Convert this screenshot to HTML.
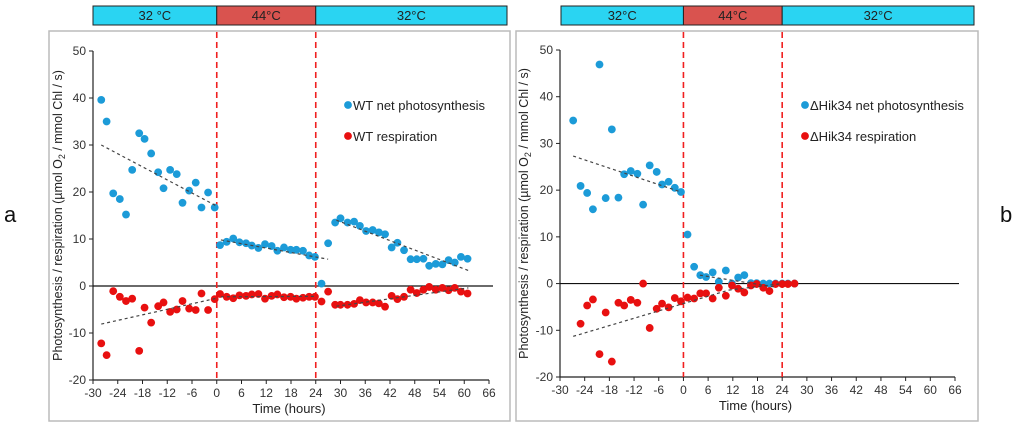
<!DOCTYPE html>
<html><head><meta charset="utf-8">
<style>
body{margin:0;background:#fff;width:1024px;height:428px;overflow:hidden;font-family:"Liberation Sans",sans-serif;}
svg text{font-family:"Liberation Sans",sans-serif;}
</style></head>
<body>
<svg id="c" width="1024" height="428" xmlns="http://www.w3.org/2000/svg"></svg>
<script>
const tickX=[-30,-24,-18,-12,-6,0,6,12,18,24,30,36,42,48,54,60,66];
const tickY=[-20,-10,0,10,20,30,40,50];
const wtPhotoT=[-28,-26.7,-25.1,-23.5,-22,-20.5,-18.8,-17.5,-15.9,-14.2,-12.9,-11.3,-9.7,-8.3,-6.7,-5.1,-3.7,-2.1,-0.5,0.8,2.4,4,5.5,7.1,8.5,10.1,11.7,13.3,14.7,16.3,17.9,19.3,20.9,22.4,23.8,25.4,27,28.7,30,31.7,33.3,34.7,36.2,37.8,39.3,40.8,42.4,43.8,45.4,47,48.5,50.1,51.5,53.1,54.7,56.2,57.7,59.2,60.8];
const wtPhotoV=[39.6,35,19.7,18.5,15.2,24.7,32.5,31.3,28.2,24.2,20.8,24.7,23.8,17.7,20.3,22,16.7,19.9,16.7,8.7,9.4,10.1,9.3,9.1,8.6,8.1,8.9,8.5,7.5,8.2,7.7,7.7,7.5,6.5,6.2,0.5,9.1,13.5,14.4,13.5,13.7,12.8,11.7,11.9,11.4,11,8.2,9.2,7.6,5.7,5.7,5.8,4.3,4.7,4.6,5.5,5,6.2,5.8];
const wtRespT=wtPhotoT;
const wtRespV=[-12.2,-14.7,-1.1,-2.3,-3.2,-2.7,-13.8,-4.6,-7.8,-4.3,-3.5,-5.5,-5,-3.2,-4.8,-5.1,-1.6,-5.1,-2.8,-1.7,-2.3,-2.6,-2,-2.1,-1.8,-1.7,-2.7,-2.1,-1.8,-2.4,-2.3,-2.7,-2.5,-2.3,-2.3,-3.3,-1.2,-4,-4,-4,-3.8,-3,-3.5,-3.5,-3.7,-4.4,-2.1,-2.8,-2.3,-0.8,-1.5,-0.8,-0.2,-0.8,-0.4,-0.9,-0.4,-1.2,-1.6];
const wtTrendPhoto=[[-28,30,0,17],[1,9.8,27,5.7],[29,14,61,3.3]];
const wtTrendResp=[[-28,-8.1,0,-2.6],[1,-2.3,24,-2.2],[29,-4.3,61,-0.4]];
const hkPhotoT=[-26.8,-25,-23.4,-22,-20.4,-18.9,-17.4,-15.8,-14.4,-12.8,-11.2,-9.8,-8.2,-6.5,-5.2,-3.6,-2.1,-0.6,1,2.6,4.1,5.5,7.1,8.6,10.3,11.8,13.3,14.8,16.4,17.8,19.4,20.9,22.4,24,25.4,27];
const hkPhotoV=[34.9,20.9,19.4,15.9,46.9,18.3,33,18.4,23.4,24.1,23.5,16.9,25.3,23.9,21.2,21.8,20.5,19.6,10.5,3.6,1.8,1.4,2.4,0.4,2.8,0,1.3,1.8,0.1,0.1,0,0,0,0,0,0];
const hkRespT=[-25,-23.4,-22,-20.4,-18.9,-17.4,-15.8,-14.4,-12.8,-11.2,-9.8,-8.2,-6.5,-5.2,-3.6,-2.1,-0.6,1,2.6,4.1,5.5,7.1,8.6,10.3,11.8,13.3,14.8,16.4,17.8,19.4,20.9,22.4,24,25.4,27];
const hkRespV=[-8.6,-4.7,-3.4,-15.1,-6.2,-16.7,-4.1,-4.7,-3.5,-4.1,0,-9.5,-5.4,-4.3,-5.1,-3.1,-3.8,-3,-3.2,-2.1,-2.1,-3.2,-0.9,-2.6,-0.4,-1.1,-1.9,-0.4,-0.1,-0.9,-1.6,-0.1,-0.1,-0.1,0];
const hkTrendPhoto=[[-26.8,27.3,-0.6,19.6],[4,1.8,22,-0.7]];
const hkTrendResp=[[-26.8,-11.3,11,-1.4],[11,-1.4,24,0]];

const svg=document.getElementById('c');
const NS='http://www.w3.org/2000/svg';
function mk(tag,attrs,parent,text){const e=document.createElementNS(NS,tag);for(const k in attrs)e.setAttribute(k,attrs[k]);if(text!==undefined)e.textContent=text;(parent||svg).appendChild(e);return e;}

function panel(p){
  const g=mk('g',{});
  
  
  const xs=t=>p.x0+(t+30)*(p.x1-p.x0)/96;
  const ys=v=>p.y0+(50-v)*(p.y1-p.y0)/70;
  const fr=mk('rect',{x:p.bx,y:31,width:p.bw,height:390,fill:'#fff',stroke:'#bbb','stroke-width':1.5},g);
  
  // temperature bar
  const bar=mk('g',{},g);
  
  const segs=[[p.barL,xs(0),'#2ad4f2',p.t1],[xs(0),xs(24),'#d9534f','44°C'],[xs(24),p.barR,'#2ad4f2','32°C']];
  segs.forEach((s,i)=>{
    const r=mk('rect',{x:s[0],y:6,width:s[1]-s[0],height:19,fill:s[2],stroke:'#222','stroke-width':1},bar);
    
    const t=mk('text',{x:(s[0]+s[1])/2,y:20,'font-size':13,'text-anchor':'middle',fill:'#222'},bar,s[3]);
    
  });
  // axes
  const ax=mk('line',{x1:p.x0,y1:p.y0,x2:p.x0,y2:p.y1,stroke:'#222','stroke-width':1.2},g);
  
  const bx=mk('line',{x1:p.x0,y1:p.y1,x2:p.x1,y2:p.y1,stroke:'#222','stroke-width':1.2},g);
  
  const zl=mk('line',{x1:p.x0,y1:ys(0),x2:p.x1+4,y2:ys(0),stroke:'#111','stroke-width':1.2},g);
  
  tickY.forEach(v=>{
    mk('line',{x1:p.x0-4,y1:ys(v),x2:p.x0,y2:ys(v),stroke:'#222'},g);
    const t=mk('text',{x:p.x0-7,y:ys(v)+4,'font-size':12,'text-anchor':'end',fill:'#333'},g,v);
    
  });
  tickX.forEach(v=>{
    mk('line',{x1:xs(v),y1:p.y1,x2:xs(v),y2:p.y1+4,stroke:'#222'},g);
    const t=mk('text',{x:xs(v),y:p.y1+17,'font-size':12,'text-anchor':'middle',fill:'#333'},g,v);
    
  });
  const xt=mk('text',{x:(p.x0+p.x1)/2-2,y:p.y1+33,'font-size':13,'text-anchor':'middle',fill:'#222'},g,'Time (hours)');
  
  const yt=mk('text',{x:0,y:0,'font-size':12.5,'text-anchor':'middle',fill:'#222',transform:`translate(${p.ytx},${(p.y0+p.y1)/2}) rotate(-90)`},g);
  
  yt.appendChild(document.createTextNode('Photosynthesis  / respiration (µmol O'));
  mk('tspan',{'font-size':9,dy:3},yt,'2');
  mk('tspan',{dy:-3},yt,' / mmol Chl / s)');
  // dashed heat lines
  [0,24].forEach(v=>{
    const l=mk('line',{x1:xs(v),y1:32,x2:xs(v),y2:p.y1,stroke:'#f02020','stroke-width':1.6,'stroke-dasharray':'6,4'},g);
    
  });
  // points
  const drawPts=(T,V,col,nm)=>{T.forEach((t,i)=>{
    const c=mk('circle',{cx:xs(t),cy:ys(V[i]),r:3.9,fill:col},g);
    
  });};
  drawPts(p.pT,p.pV,'#1c9bd8','photosynthesis-point');
  drawPts(p.rT,p.rV,'#e81010','respiration-point');
  [...p.trP,...p.trR].forEach(s=>{
    const l=mk('line',{x1:xs(s[0]),y1:ys(s[1]),x2:xs(s[2]),y2:ys(s[3]),stroke:'#444','stroke-width':1.2,'stroke-dasharray':'3,3'},g);
    
  });
  // legend
  [[p.lg1,105,'#1c9bd8','legend-photosynthesis'],[p.lg2,136,'#e81010','legend-respiration']].forEach(L=>{
    const c=mk('circle',{cx:p.lgx,cy:L[1],r:3.9,fill:L[2]},g);
    
    const t=mk('text',{x:p.lgx+5,y:L[1]+5,'font-size':13,fill:'#222'},g,L[0]);
    
  });
}
panel({name:'panel-a-wt',x0:93,x1:489,y0:51,y1:380,bx:49,bw:461,barL:93,barR:507,t1:'32 °C',ytx:62,
  pT:wtPhotoT,pV:wtPhotoV,rT:wtRespT,rV:wtRespV,trP:wtTrendPhoto,trR:wtTrendResp,
  lgx:348,lg1:'WT net photosynthesis',lg2:'WT respiration'});
panel({name:'panel-b-hik34',x0:560,x1:955,y0:50,y1:377,bx:516,bw:462,barL:561,barR:974,t1:'32°C',ytx:528,
  pT:hkPhotoT,pV:hkPhotoV,rT:hkRespT,rV:hkRespV,trP:hkTrendPhoto,trR:hkTrendResp,
  lgx:805,lg1:'ΔHik34 net photosynthesis',lg2:'ΔHik34 respiration'});
const a=mk('text',{x:4,y:222,'font-size':22,fill:'#111','font-family':'Liberation Serif, serif'},svg,'a');

const b=mk('text',{x:1000,y:222,'font-size':22,fill:'#111','font-family':'Liberation Serif, serif'},svg,'b');

</script>
</body></html>
